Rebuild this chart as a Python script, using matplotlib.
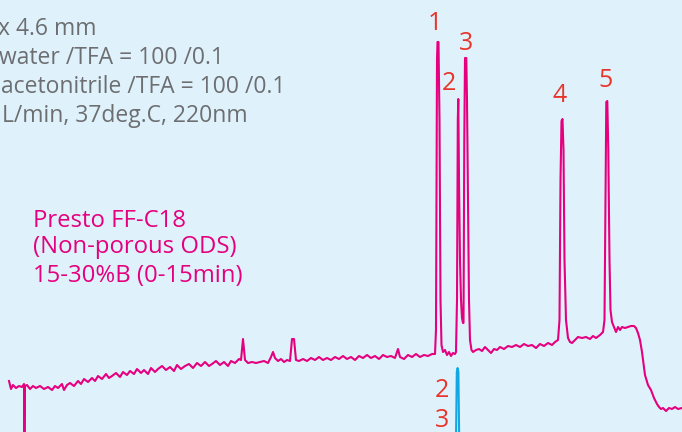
import numpy as np
import matplotlib
matplotlib.use("Agg")
import matplotlib.pyplot as plt

plt.rcParams['font.family'] = ['Open Sans', 'DejaVu Sans']

# magenta trace (Presto FF-C18): position / detector level (down = larger)
trace_x = [9, 11, 13, 16, 19, 22, 24, 24.4, 25, 27, 30, 33, 36, 40, 44, 48, 52, 55, 58, 62, 64, 67, 70, 74, 78,
           81, 84, 88, 92, 95, 98, 102, 106, 109, 112, 116, 120, 123, 127, 130, 134, 137, 141, 144, 148,
           151, 155, 158, 162, 166, 170, 174, 177, 181, 185, 189, 193, 197, 201, 205, 209, 212, 216, 220,
           224, 228, 231, 235, 239, 241, 243, 245, 248, 252, 256, 260, 264, 268, 271, 273, 275, 278, 281,
           284, 287, 290, 292, 294, 296, 299, 303, 307, 311, 315, 319, 323, 327, 331, 335, 339, 343, 347,
           351, 355, 359, 363, 367, 371, 375, 379, 383, 387, 391, 395, 398, 400, 404, 408, 412, 416, 420,
           424, 428, 432, 435,
           436, 437, 437.5, 438.5, 439.5, 440.5, 441.5, 443, 445, 447, 449, 451, 453, 455, 456,
           457, 457.8, 458.3, 459, 460, 461, 462, 463, 463.5,
           464.3, 465, 466.3, 467, 468, 469, 470, 471.5, 473, 476, 479, 482, 485, 488, 491, 494, 497, 500,
           504, 508, 512, 516, 520, 524, 528, 532, 536, 540, 544, 548, 552, 555, 558,
           559.5, 560.5, 561.5, 562.5, 563.5, 564.5, 566, 568, 570, 572, 575, 578, 582, 586, 590, 593, 596,
           600, 603, 604.5,
           605.5, 606.3, 607.3, 608.3, 609.5, 610.5, 612, 614, 616, 618, 620, 622, 625, 628, 631, 634, 636,
           638, 640, 642, 645, 648, 651, 654, 657, 659, 661, 663, 666, 669, 672, 675, 678, 682]
trace_y = [381, 389, 385, 388, 386, 387, 384, 440, 386, 385, 389, 386, 388, 386, 389, 387, 390, 386, 388, 384, 390, 385, 383, 386, 381,
           384, 379, 382, 378, 381, 376, 379, 374, 378, 376, 373, 377, 372, 375, 371, 374, 369, 373, 370, 374,
           368, 372, 369, 366, 370, 367, 371, 365, 369, 366, 364, 368, 363, 366, 362, 366, 364, 361, 365,
           362, 366, 361, 363, 359, 360, 339, 360, 363, 362, 363, 362, 361, 363, 357, 352, 358, 361, 359,
           362, 360, 361, 339, 339, 360, 361, 359, 361, 358, 360, 357, 360, 358, 360, 357, 359, 356, 359,
           357, 360, 356, 358, 355, 358, 356, 359, 355, 357, 356, 358, 349, 357, 359, 355, 357, 354, 357,
           355, 356, 354, 354,
           330, 60, 42, 42, 120, 300, 345, 352, 350, 355, 352, 356, 353, 354, 352,
           300, 120, 99, 180, 260, 300, 318, 323, 323,
           140, 58, 58, 100, 200, 300, 340, 350, 352, 350, 349, 351, 347, 350, 353, 349, 350, 347,
           349, 346, 347, 345, 347, 344, 346, 345, 348, 344, 346, 343, 345, 342, 340,
           320, 180, 121, 119, 150, 260, 320, 338, 342, 343, 340, 337, 338, 337, 339, 336, 338,
           335, 332, 320,
           200, 102, 101, 150, 260, 310, 322, 327, 332, 327, 330, 327, 328, 327, 326, 326, 328,
           333, 340, 352, 375, 385, 390, 398, 404, 407, 409, 408, 411, 408, 409, 407, 409, 408]

# blue trace, only its peak tip shows at the bottom
blue_x = [456, 456.8, 457.6, 458.4, 459.2]
blue_y = [440, 372, 368, 372, 440]

peak_labels = ["1", "2", "3", "4", "5", "2", "3"]
peak_label_x = [435, 449, 466, 560, 606, 442, 442]
peak_label_y = [30, 90, 50, 102, 87, 397, 427]

# condition lines, cut off at the left edge in the source
cond_lines = ["x 4.6 mm", "water /TFA = 100 /0.1", "acetonitrile /TFA = 100 /0.1", "L/min, 37deg.C, 220nm"]
cond_x = [97, 224, 285, 2]
cond_ha = ["right", "right", "right", "left"]
cond_base = [35, 64, 93, 122]

col_lines = ["Presto FF-C18", "(Non-porous ODS)", "15-30%B (0-15min)"]
col_base = [227, 253, 282]

bg = "#dff2fb"
magenta = "#e4007f"
red = "#e8352a"
gray = "#6d6e71"
blue = "#12a7e3"

fig = plt.figure(figsize=(6.82, 4.32), dpi=100, facecolor=bg)
ax = fig.add_axes([0, 0, 1, 1], facecolor=bg)
ax.plot(trace_x, trace_y, color=magenta, lw=1.5, solid_joinstyle="round")
ax.plot(blue_x, blue_y, color=blue, lw=1.5)
ax.set_xlim(0, 682)
ax.set_ylim(432, 0)
ax.axis("off")

for s, x, y in zip(peak_labels, peak_label_x, peak_label_y):
    ax.text(x, y, s, color=red, fontsize=18, ha="center", va="baseline")
for s, x, ha, y in zip(cond_lines, cond_x, cond_ha, cond_base):
    ax.text(x, y, s, color=gray, fontsize=16.5, ha=ha, va="baseline")
for s, y in zip(col_lines, col_base):
    ax.text(33, y, s, color=magenta, fontsize=17.2, ha="left", va="baseline")

fig.savefig("out.png", dpi=100, facecolor=bg)
